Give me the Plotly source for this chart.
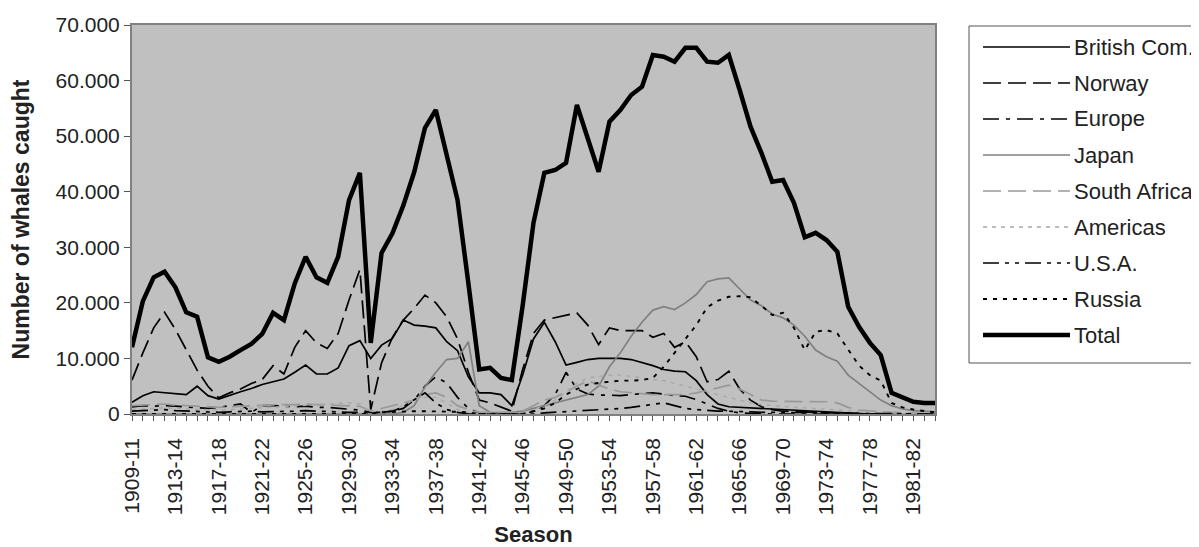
import plotly.graph_objects as go

# ---------------- data ----------------
seasons = [
    "1909-11", "1910-11", "1911-12", "1912-13", "1913-14", "1914-15", "1915-16", "1916-17",
    "1917-18", "1918-19", "1919-20", "1920-21", "1921-22", "1922-23", "1923-24", "1924-25",
    "1925-26", "1926-27", "1927-28", "1928-29", "1929-30", "1930-31", "1931-32", "1932-33",
    "1933-34", "1934-35", "1935-36", "1936-37", "1937-38", "1938-39", "1939-40", "1940-41",
    "1941-42", "1942-43", "1943-44", "1944-45", "1945-46", "1946-47", "1947-48", "1948-49",
    "1949-50", "1950-51", "1951-52", "1952-53", "1953-54", "1954-55", "1955-56", "1956-57",
    "1957-58", "1958-59", "1959-60", "1960-61", "1961-62", "1962-63", "1963-64", "1964-65",
    "1965-66", "1966-67", "1967-68", "1968-69", "1969-70", "1970-71", "1971-72", "1972-73",
    "1973-74", "1974-75", "1975-76", "1976-77", "1977-78", "1978-79", "1979-80", "1980-81",
    "1981-82", "1982-83", "1983-84",
]

x_tick_labels = [
    "1909-11", "1913-14", "1917-18", "1921-22", "1925-26", "1929-30", "1933-34",
    "1937-38", "1941-42", "1945-46", "1949-50", "1953-54", "1957-58", "1961-62",
    "1965-66", "1969-70", "1973-74", "1977-78", "1981-82",
]

y_tick_values = [0, 10000, 20000, 30000, 40000, 50000, 60000, 70000]
y_tick_labels = ["0", "10.000", "20.000", "30.000", "40.000", "50.000", "60.000", "70.000"]

british_com = [
    2100, 3300, 4000, 3800, 3700, 3500, 5000, 3300, 2700, 3400,
    4000, 4600, 5300, 5800, 6300, 7500, 8800, 7200, 7200, 8300,
    12300, 13200, 10000, 12400, 13600, 16900, 16000, 15800, 15500, 13000,
    11400, 6700, 3800, 3800, 3500, 1500, 7000, 13500, 16500, 13000,
    8800, 9300, 9800, 10000, 10000, 10000, 9800, 9300, 8700, 8000,
    7700, 7600, 6000, 3500, 1800, 1300, 1200, 1000, 900, 800,
    700, 600, 500, 400, 300, 200, 100, 0, 0, 0,
    0, 0, 0, 0, 0,
]

norway = [
    6100, 11000, 15500, 18300, 15200, 11500, 7900, 5000, 2900, 3800,
    4500, 5500, 6200, 8700, 7200, 12000, 15000, 12800, 11800, 14500,
    20500, 26000, 800, 9200, 13800, 16900, 19000, 21400, 20000, 17500,
    13500, 7500, 2500, 2000, 1200, 500, 8000, 14500, 16900, 17300,
    17700, 18200, 16000, 12500, 15500, 15000, 15000, 15000, 13800, 14500,
    12000, 13000, 10300, 5800, 6200, 7700, 4500, 2500, 1300, 800,
    500, 400, 300, 300, 200, 200, 100, 0, 0, 0,
    0, 0, 0, 0, 0,
]

europe = [
    1300, 1500, 1400, 1500, 1400, 1300, 1200, 1000, 1200, 1500,
    1800, 300, 1500, 1500, 1400, 1300, 1400, 1200, 1200, 1000,
    800, 700, 300, 300, 500, 1000, 2500, 5000, 6700, 5600,
    3000, 1000, 200, 100, 0, 0, 0, 500, 1500, 3500,
    7500, 4500, 3600, 3400, 3400, 3300, 3500, 3700, 3800, 3600,
    3300, 3200, 2600, 1800, 1000, 500, 200, 100, 0, 0,
    0, 0, 0, 0, 0, 0, 0, 0, 0, 0,
    0, 0, 0, 0, 0,
]

japan = [
    0, 0, 0, 0, 0, 0, 0, 0, 0, 0,
    0, 0, 0, 0, 0, 0, 0, 0, 0, 0,
    0, 0, 0, 0, 0, 300, 1500, 4900, 7500, 9800,
    10000, 13000, 1500, 300, 200, 300, 500, 1000, 1500, 2000,
    2500, 3000, 3500, 5000, 8500, 11000, 14000, 16500, 18700, 19300,
    18800, 20000, 21500, 23800, 24300, 24500, 22500, 20500, 19500, 18000,
    17300, 16000, 14000, 11500, 10300, 9500, 7000, 5500, 4000, 2500,
    1500, 900, 600, 500, 400,
]

south_africa = [
    1500, 1600, 1700, 1800, 1600, 1500, 1400, 1300, 1200, 1300,
    1400, 1500, 1500, 1600, 1700, 1700, 1800, 1700, 1600, 1500,
    1500, 1400, 500, 1000, 1500, 2000, 2500, 3500, 3800, 3000,
    1500, 800, 300, 300, 300, 300, 500, 1500, 2500, 3000,
    4000, 5000, 6000, 5200, 4500, 4000, 3800, 3600, 3500, 3500,
    3500, 3500, 3800, 4200, 4700, 5200, 4500, 3500, 2500, 2300,
    2300, 2300, 2300, 2300, 2200, 2000, 1200, 700, 500, 400,
    300, 200, 100, 0, 0,
]

americas = [
    800, 900, 1000, 1100, 1000, 900, 900, 800, 700, 800,
    900, 1000, 1100, 1200, 1300, 1400, 1500, 1600, 1700, 1800,
    2000, 1800, 400, 500, 800, 1500, 2500, 3000, 3000, 2000,
    800, 300, 0, 0, 0, 0, 300, 800, 1500, 2500,
    4000, 5500, 6500, 6800, 7000, 7000, 6800, 6500, 6200, 6000,
    5500, 5000, 4500, 4000, 3500, 3000, 2500, 2000, 1700, 1500,
    1300, 1200, 1100, 1000, 900, 800, 600, 400, 300, 200,
    100, 0, 0, 0, 0,
]

usa = [
    500, 600, 700, 800, 600, 500, 400, 300, 300, 400,
    500, 500, 400, 400, 500, 500, 600, 500, 500, 400,
    300, 300, 200, 300, 500, 1300, 2500, 3800, 2000, 800,
    300, 0, 0, 0, 0, 0, 0, 0, 200, 300,
    500, 600, 700, 800, 900, 1000, 1200, 1500, 1800, 2000,
    1500, 1000, 800, 600, 500, 500, 500, 400, 300, 300,
    300, 300, 300, 300, 300, 200, 200, 100, 100, 100,
    0, 0, 0, 0, 0,
]

russia = [
    0, 0, 0, 0, 0, 0, 0, 0, 0, 0,
    0, 0, 0, 0, 0, 0, 0, 0, 0, 0,
    0, 0, 0, 300, 400, 500, 500, 500, 500, 500,
    400, 300, 0, 0, 0, 0, 0, 500, 1000, 2000,
    3500, 4500, 5300, 5600, 5800, 6000, 6000, 6100, 6500, 8500,
    11000, 13500, 16000, 19200, 20400, 21100, 21200, 21000, 19500, 17800,
    18200, 15500, 11500, 14800, 15100, 14500, 11500, 8700, 7000, 6000,
    2000, 1200, 800, 500, 300,
]

total = [
    12000, 20300, 24600, 25600, 22800, 18300, 17500, 10200, 9400, 10300,
    11500, 12600, 14400, 18200, 16900, 23500, 28300, 24600, 23600, 28300,
    38500, 43400, 12800, 29000, 32500, 37500, 43500, 51500, 54700, 47000,
    38500, 23500, 8000, 8300, 6500, 6100, 19500, 34400, 43400, 43900,
    45200, 55600, 49500, 43600, 52600, 54700, 57400, 58900, 64600, 64300,
    63400, 65900, 65900, 63400, 63200, 64600, 58300, 51700, 47000, 41800,
    42100, 38000, 31800, 32600, 31300, 29200, 19300, 15700, 12800, 10600,
    3800, 3100, 2200, 2000, 2000,
]

series_names = ["British Com.", "Norway", "Europe", "Japan", "South Africa",
                "Americas", "U.S.A.", "Russia", "Total"]
series_values = [british_com, norway, europe, japan, south_africa,
                 americas, usa, russia, total]

# ---------------- styles ----------------
styles = {
    "British Com.": dict(color="#000000", width=1.7, dash="solid"),
    "Norway": dict(color="#000000", width=1.7, dash="18px,7px"),
    "Europe": dict(color="#000000", width=1.7, dash="16px,7px,4px,7px"),
    "Japan": dict(color="#808080", width=1.7, dash="solid"),
    "South Africa": dict(color="#999999", width=1.7, dash="18px,7px"),
    "Americas": dict(color="#a8a8a8", width=1.4, dash="4px,5px"),
    "U.S.A.": dict(color="#000000", width=1.7, dash="16px,6px,4px,6px,4px,6px"),
    "Russia": dict(color="#000000", width=1.9, dash="4px,6px"),
    "Total": dict(color="#000000", width=4.5, dash="solid"),
}

FONT = "Liberation Sans, Arial, sans-serif"
OFF = 8                      # page offset of the figure (body margin)
W, H = 1199 - OFF, 547 - OFF
PL, PR, PT, PB = 132 - OFF, 935 - OFF, 25 - OFF, 414 - OFF


def paper_x(page_px):
    return (page_px - OFF - PL) / (PR - PL)


def paper_y(page_py):
    return (PB - (page_py - OFF)) / (PB - PT)


fig = go.Figure()
for name, vals in zip(series_names, series_values):
    fig.add_trace(go.Scatter(
        x=seasons, y=vals, mode="lines", name=name,
        line=styles[name], showlegend=False, hoverinfo="x+y+name",
    ))

# ---------------- custom legend (box, samples, labels) ----------------
shapes = [dict(type="rect", xref="paper", yref="paper",
               x0=paper_x(969), x1=paper_x(1240), y0=paper_y(363), y1=paper_y(26),
               line=dict(color="#555555", width=1), fillcolor="white", layer="below")]
annotations = []
row_last, step = 335, 36
n = len(series_names)
for k, name in enumerate(series_names):
    yy = paper_y(row_last - (n - 1 - k) * step)
    st = styles[name]
    shapes.append(dict(type="line", xref="paper", yref="paper",
                       x0=paper_x(983), x1=paper_x(1070), y0=yy, y1=yy,
                       line=dict(color=st["color"], width=st["width"], dash=st["dash"])))
    annotations.append(dict(xref="paper", yref="paper", x=paper_x(1072), y=yy,
                            text=name, showarrow=False, xanchor="left", yanchor="middle",
                            font=dict(family=FONT, size=22, color="#222222")))

tick_text = [s if s in x_tick_labels else "" for s in seasons]

fig.update_layout(
    width=W, height=H,
    margin=dict(l=PL, r=W - PR, t=PT, b=H - PB, pad=0),
    paper_bgcolor="white", plot_bgcolor="#c0c0c0",
    font=dict(family=FONT, size=21, color="#222222"),
    shapes=shapes, annotations=annotations,
    showlegend=False,
    xaxis=dict(
        type="category", categoryorder="array", categoryarray=seasons,
        range=[0, len(seasons) - 1],
        tickmode="array", tickvals=seasons, ticktext=tick_text,
        ticks="outside", ticklen=5, tickwidth=1, tickcolor="#555555",
        ticklabelstandoff=9,
        tickangle=-90, tickfont=dict(family=FONT, size=21, color="#222222"),
        showline=True, linecolor="#808080", linewidth=1.5, mirror=True,
        showgrid=False, zeroline=False, automargin=False,
        title=dict(text="<b>Season</b>", font=dict(family=FONT, size=22, color="#222222"),
                   standoff=12),
    ),
    yaxis=dict(
        range=[0, 70000], tickmode="array", tickvals=y_tick_values, ticktext=y_tick_labels,
        ticks="outside", ticklen=6, tickwidth=1, tickcolor="#555555",
        tickfont=dict(family=FONT, size=21, color="#222222"),
        showline=True, linecolor="#808080", linewidth=2, mirror=True,
        showgrid=False, zeroline=False, automargin=False,
        title=dict(text="<b>Number of whales caught</b>",
                   font=dict(family=FONT, size=23, color="#222222"), standoff=20),
    ),
)

fig.write_html("out.html")
